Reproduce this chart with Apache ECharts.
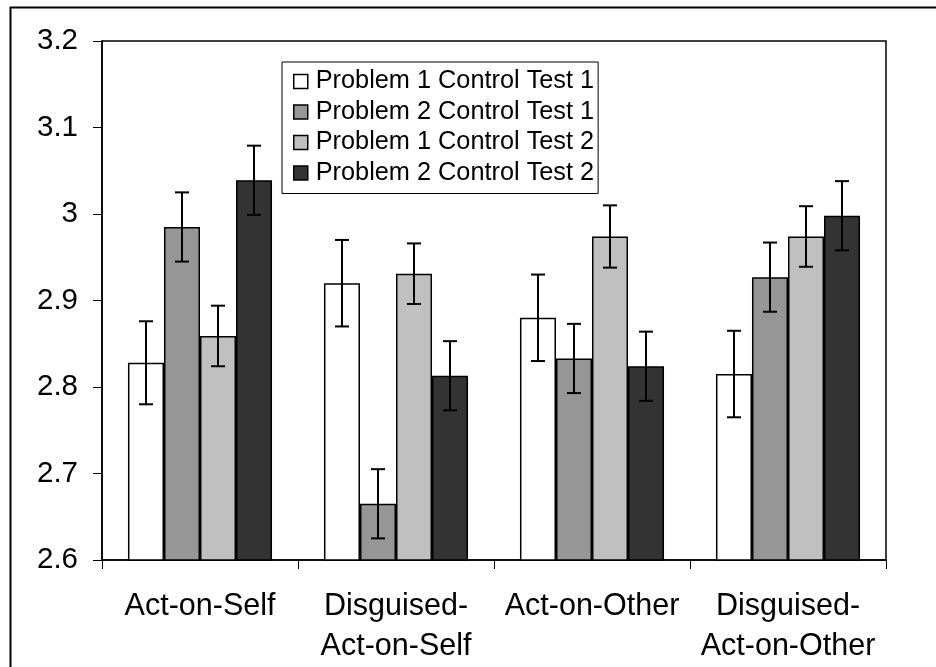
<!DOCTYPE html>
<html>
<head>
<meta charset="utf-8">
<script src="https://cdn.jsdelivr.net/npm/echarts@6/dist/echarts.min.js"></script>
<style>
html,body{margin:0;padding:0;background:#fff;}
#chart{width:936px;height:667px;}
</style>
</head>
<body>
<div id="chart"></div>
<script>
const categories = ['Act-on-Self', 'Disguised-\nAct-on-Self', 'Act-on-Other', 'Disguised-\nAct-on-Other'];
const seriesNames = ['Problem 1 Control Test 1', 'Problem 2 Control Test 1', 'Problem 1 Control Test 2', 'Problem 2 Control Test 2'];
const p1ct1 = [2.828, 2.920, 2.880, 2.815];
const p2ct1 = [2.985, 2.665, 2.833, 2.927];
const p1ct2 = [2.859, 2.931, 2.974, 2.974];
const p2ct2 = [3.039, 2.813, 2.824, 2.998];
const p1ct1Err = [0.048, 0.050, 0.050, 0.050];
const p2ct1Err = [0.040, 0.040, 0.040, 0.040];
const p1ct2Err = [0.035, 0.035, 0.036, 0.035];
const p2ct2Err = [0.040, 0.040, 0.040, 0.040];
const yTickLabels = ['2.6', '2.7', '2.8', '2.9', '3', '3.1', '3.2'];

const colors = ['#ffffff', '#969696', '#c0c0c0', '#333333'];
const means = [p1ct1, p2ct1, p1ct2, p2ct2];
const errs = [p1ct1Err, p2ct1Err, p1ct2Err, p2ct2Err];
const catGap = 0.265;
const FONT = 'Liberation Sans, Arial, sans-serif';

const chart = echarts.init(document.getElementById('chart'), null, {renderer: 'canvas'});

const barSeries = means.map((vals, i) => ({
  name: seriesNames[i],
  type: 'bar',
  data: vals,
  barGap: '0%',
  barCategoryGap: (catGap * 100) + '%',
  itemStyle: {color: colors[i], borderColor: '#000', borderWidth: 1.5},
  emphasis: {disabled: true},
  z: 2
}));

const errSeries = means.map((vals, i) => ({
  name: seriesNames[i] + ' err',
  type: 'custom',
  data: vals.map((v, j) => [j, v, errs[i][j]]),
  z: 5,
  silent: true,
  renderItem: function (params, api) {
    const c = api.value(0), v = api.value(1), e = api.value(2);
    const top = api.coord([c, v + e]);
    const bot = api.coord([c, v - e]);
    const band = api.size([1, 0])[0];
    const bw = band * (1 - catGap) / 4;
    const x = top[0] + (i - 1.5) * bw;
    const cap = 7;
    const st = {stroke: '#000', lineWidth: 2};
    return {
      type: 'group',
      children: [
        {type: 'line', shape: {x1: x, y1: top[1], x2: x, y2: bot[1]}, style: st},
        {type: 'line', shape: {x1: x - cap, y1: top[1], x2: x + cap, y2: top[1]}, style: st},
        {type: 'line', shape: {x1: x - cap, y1: bot[1], x2: x + cap, y2: bot[1]}, style: st}
      ]
    };
  }
}));

const option = {
  backgroundColor: '#fff',
  animation: false,
  textStyle: {fontFamily: FONT},
  graphic: [{
    type: 'rect', left: 8, top: 5, z: 100, silent: true,
    shape: {width: 1000, height: 1000},
    style: {fill: 'none', stroke: '#000', lineWidth: 2}
  }],
  grid: {left: 102, right: 50, top: 41, bottom: 105, show: true, borderColor: '#000', borderWidth: 1.5, backgroundColor: 'transparent'},
  legend: {
    data: seriesNames,
    orient: 'vertical',
    left: 282, top: 62,
    backgroundColor: '#fff',
    borderColor: '#000', borderWidth: 1,
    padding: [7, 4, 8, 11],
    itemWidth: 14, itemHeight: 14, itemGap: 5.5,
    icon: 'rect',
    itemStyle: {borderColor: '#000', borderWidth: 1.5},
    textStyle: {fontSize: 25.3, color: '#000', fontFamily: FONT, padding: [0, 0, 0, 3]},
    selectedMode: false
  },
  xAxis: {
    type: 'category',
    data: categories,
    axisLine: {lineStyle: {color: '#000', width: 1.5}},
    axisTick: {show: true, length: 9, lineStyle: {color: '#000', width: 1}},
    axisLabel: {fontSize: 30.5, color: '#000', fontFamily: FONT, margin: 27, lineHeight: 40, interval: 0},
    splitLine: {show: false}
  },
  yAxis: {
    type: 'value',
    min: 2.6, max: 3.2, interval: 0.1,
    axisLine: {show: true, lineStyle: {color: '#000', width: 1.5}},
    axisTick: {show: true, length: 9, lineStyle: {color: '#000', width: 1}},
    axisLabel: {
      fontSize: 29.5, color: '#000', fontFamily: FONT, margin: 24,
      formatter: function (v) { return yTickLabels[Math.round((v - 2.6) * 10)]; }
    },
    splitLine: {show: false}
  },
  series: barSeries.concat(errSeries)
};
chart.setOption(option);
</script>
</body>
</html>
